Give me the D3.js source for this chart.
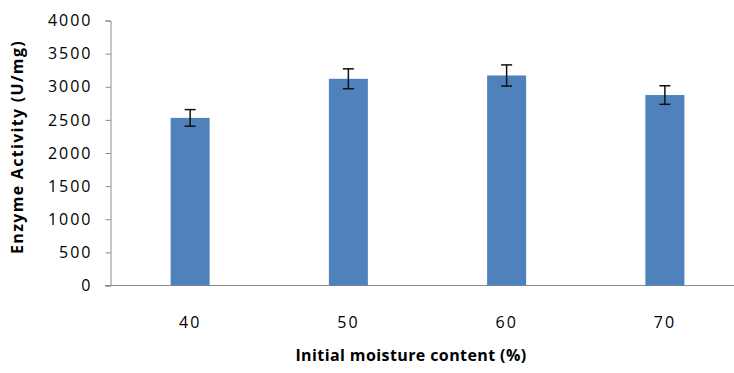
<!DOCTYPE html>
<html>
<head>
<meta charset="utf-8">
<script src="https://cdn.jsdelivr.net/npm/d3@7"></script>
<style>
  body { margin: 0; background: #fff; }
  svg text { font-family: "Open Sans", sans-serif; fill: #000; }
</style>
</head>
<body>
<svg width="734" height="373"></svg>
<script>
// moisture content categories and measured activity
var categories = ["40", "50", "60", "70"];
var activity = [2530, 3120, 3170, 2875];
var errors = [125, 150, 160, 140];
var yTicks = [0, 500, 1000, 1500, 2000, 2500, 3000, 3500, 4000];

var data = categories.map((c, i) => ({cat: c, val: activity[i], err: errors[i]}));

var svg = d3.select("svg");

var xScale = d3.scaleBand().domain(categories).range([111, 744]);
var yScale = d3.scaleLinear().domain([0, 4000]).range([285.5, 20.5]);

var yAxis = d3.axisLeft(yScale).tickValues(yTicks).tickFormat(d3.format("d"))
  .tickSize(5).tickPadding(13);
var yG = svg.append("g").attr("transform", "translate(110.5,0)").call(yAxis);
yG.selectAll("text").style("font-size", "16px").style("letter-spacing", "2px");

var xAxis = d3.axisBottom(xScale).tickSize(0).tickPadding(31);
var xG = svg.append("g").attr("transform", "translate(0,285.5)").call(xAxis);
xG.selectAll("text").style("font-size", "16px").style("letter-spacing", "2px");
xG.select(".domain").attr("d", "M105,0H734");

svg.selectAll(".domain, .tick line").attr("stroke", "#8a8a8a");

// bars
var barW = 39;
svg.selectAll("rect.bar")
  .data(data)
  .enter()
  .append("rect")
    .attr("class", "bar")
    .attr("x", d => xScale(d.cat) + xScale.bandwidth() / 2 - barW / 2)
    .attr("width", barW)
    .attr("y", d => yScale(d.val))
    .attr("height", d => yScale(0) - yScale(d.val))
    .style("fill", "#4f81bd");

// error bars
svg.selectAll("g.err")
  .data(data)
  .enter()
  .append("g")
  .attr("class", "err")
  .attr("transform", d => `translate(${xScale(d.cat) + xScale.bandwidth() / 2},0)`)
  .each(function(d) {
    var g = d3.select(this);
    var top = yScale(d.val + d.err), bot = yScale(d.val - d.err);
    g.append("line").attr("x1", 0).attr("x2", 0).attr("y1", top).attr("y2", bot);
    g.append("line").attr("x1", -5.5).attr("x2", 5.5).attr("y1", top).attr("y2", top);
    g.append("line").attr("x1", -5.5).attr("x2", 5.5).attr("y1", bot).attr("y2", bot);
    g.selectAll("line").attr("stroke", "#111").attr("stroke-width", 1.5);
  });

// axis titles
svg.append("text")
  .attr("x", 411).attr("y", 361)
  .attr("text-anchor", "middle")
  .style("font-size", "16px").style("font-weight", "bold")
  .style("letter-spacing", "0.4px")
  .text("Initial moisture content (%)");

svg.append("text")
  .attr("transform", "translate(23,147) rotate(-90)")
  .attr("text-anchor", "middle")
  .style("font-size", "16px").style("font-weight", "bold")
  .style("letter-spacing", "1.3px")
  .text("Enzyme Activity (U/mg)");
</script>
</body>
</html>
